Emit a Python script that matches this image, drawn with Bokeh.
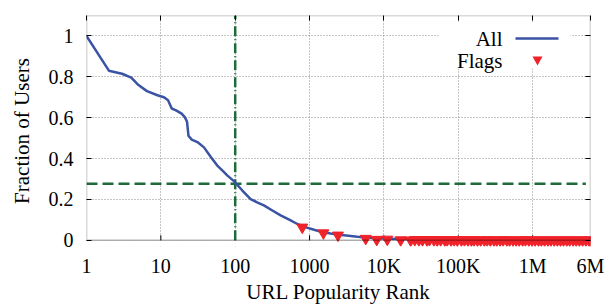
from bokeh.plotting import figure
from bokeh.models import (Range1d, FixedTicker, LogAxis, LinearAxis, BoxAnnotation,
                          PolyAnnotation, Label)
from bokeh.embed import file_html
from bokeh.resources import INLINE

# ---------------- data ----------------
url_rank = [1, 2, 3, 4, 5, 6.5, 9, 11, 12.5, 14, 16, 19, 21, 22.5, 23.5, 26, 31, 38, 47,
            57, 68, 78, 96, 124, 161, 200, 243, 320, 408, 540, 685, 850, 1150, 1500,
            1920, 2700, 4400, 7000, 10000, 15000, 25000, 50000, 100000, 300000,
            1000000, 6000000]
fraction_users = [1.0, 0.83, 0.815, 0.796, 0.76, 0.73, 0.71, 0.70, 0.685, 0.645, 0.636,
                  0.62, 0.603, 0.58, 0.512, 0.493, 0.481, 0.455, 0.408, 0.367, 0.34,
                  0.318, 0.29, 0.245, 0.202, 0.185, 0.171, 0.145, 0.122, 0.10, 0.08,
                  0.066, 0.052, 0.04, 0.034, 0.026, 0.018, 0.012, 0.009, 0.007, 0.005,
                  0.004, 0.003, 0.002, 0.001, 0.0]

flag_rank = [798, 1535, 2410, 5690, 8000, 11100, 16800, 22900, 26000, 29500, 33000,
             38000, 41000, 47000, 52000, 58000, 66000, 71000, 80000, 88000, 97000,
             110000, 121000, 135000, 150000, 163000, 181000, 200000, 224000, 245000,
             270000, 302000, 330000, 365000, 401000, 450000, 490000, 545000, 600000,
             660000, 735000, 800000, 890000, 980000, 1080000, 1200000, 1310000,
             1450000, 1600000, 1760000, 1950000, 2150000, 2370000, 2600000, 2880000,
             3150000, 3500000, 3850000, 4250000, 4700000, 5200000, 5750000, 6000000]
flag_fraction = [0.064, 0.036, 0.025, 0.009, 0.004, 0.005, 0.002, 0.001, 0.003, 0.002,
                 0.002, 0.001, 0.003, 0.002, 0.001, 0.002, 0.001, 0.002, 0.001, 0.002,
                 0.001, 0.001, 0.002, 0.001, 0.001, 0.002, 0.001, 0.001, 0.001, 0.002,
                 0.001, 0.001, 0.001, 0.001, 0.002, 0.001, 0.001, 0.001, 0.001, 0.001,
                 0.001, 0.002, 0.001, 0.001, 0.001, 0.001, 0.001, 0.001, 0.001, 0.001,
                 0.001, 0.001, 0.001, 0.001, 0.001, 0.001, 0.001, 0.001, 0.001, 0.001,
                 0.001, 0.001, 0.001]

x_ticks = [1, 10, 100, 1000, 10000, 100000, 1000000, 6000000]
x_tick_labels = ["1", "10", "100", "1000", "10K", "100K", "1M", "6M"]
y_ticks = [0, 0.2, 0.4, 0.6, 0.8, 1.0]
y_tick_labels = ["0", "0.2", "0.4", "0.6", "0.8", "1"]

cutoff_rank = 100
cutoff_fraction = 0.277

x_lim = (1, 6000000)
y_lim = (-0.03, 1.1)
cutoff_line_end = 5200000

# ---------------- style ----------------
FONT = "serif"
BLUE = "#3a53a4"
RED = "#f0222a"
GREEN = "#1d6b39"

p = figure(width=614, height=306, x_axis_type="log",
           x_range=Range1d(*x_lim), y_range=Range1d(*y_lim),
           output_backend="svg", toolbar_location=None,
           min_border_left=86, min_border_right=24, min_border_top=15,
           min_border_bottom=60)
p.outline_line_color = None
p.background_fill_color = "white"
p.border_fill_color = "white"

# grids
p.xgrid.ticker = FixedTicker(ticks=x_ticks)
p.ygrid.ticker = FixedTicker(ticks=y_ticks)
for g in (p.xgrid, p.ygrid):
    g.grid_line_color = "#8a8a8a"
    g.grid_line_dash = "1 2"
    g.grid_line_width = 1

# white strip below zero so grid stubs are hidden
p.add_layout(BoxAnnotation(left=x_lim[0], right=x_lim[1], bottom=y_lim[0], top=0,
                           fill_color="white", fill_alpha=1,
                           line_color=None, level="underlay"))

# axes
xa = p.xaxis[0]
xa.ticker = FixedTicker(ticks=x_ticks)
xa.major_label_overrides = {t: l for t, l in zip(x_ticks, x_tick_labels)}
xa.axis_line_color = None
xa.major_tick_in = 0
xa.major_tick_out = 0
xa.minor_tick_line_color = None
xa.major_label_standoff = 8
xa.axis_label = "URL Popularity Rank"
xa.axis_label_standoff = 0

ya = p.yaxis[0]
ya.ticker = FixedTicker(ticks=y_ticks)
ya.major_label_overrides = {t: l for t, l in zip(y_ticks, y_tick_labels)}
ya.axis_line_color = None
ya.major_tick_in = 5
ya.major_tick_out = 0
ya.minor_tick_line_color = None
ya.major_label_standoff = 13
ya.axis_label = "Fraction of Users"
ya.axis_label_standoff = 12

for ax in (xa, ya):
    ax.major_label_text_font = FONT
    ax.major_label_text_font_size = "20px"
    ax.major_label_text_color = "black"
    ax.axis_label_text_font = FONT
    ax.axis_label_text_font_size = "21px"
    ax.axis_label_text_font_style = "normal"
    ax.axis_label_text_color = "black"
    ax.major_tick_line_color = "black"

top_ax = LogAxis(ticker=FixedTicker(ticks=x_ticks), axis_line_color=None,
                 major_tick_in=5, major_tick_out=0, minor_tick_line_color=None,
                 major_label_text_font_size="1px", major_label_text_alpha=0,
                 major_label_standoff=0)
right_ax = LinearAxis(ticker=FixedTicker(ticks=y_ticks), axis_line_color=None,
                      major_tick_in=5, major_tick_out=0, minor_tick_line_color=None,
                      major_label_text_font_size="1px", major_label_text_alpha=0,
                      major_label_standoff=0)
p.add_layout(top_ax, "above")
p.add_layout(right_ax, "right")

# bottom tick marks rising from the zero line
tick_len = 0.025
p.segment(x0=x_ticks[1:-1], x1=x_ticks[1:-1], y0=[0] * (len(x_ticks) - 2),
          y1=[tick_len] * (len(x_ticks) - 2), line_color="black", line_width=1)

# cutoff lines
p.line(x=[cutoff_rank, cutoff_rank], y=[0, y_lim[1]], line_color=GREEN,
       line_width=2.5, line_dash="10 3 1 3")
p.line(x=[x_lim[0], cutoff_line_end], y=[cutoff_fraction, cutoff_fraction],
       line_color=GREEN, line_width=2.5, line_dash="11 5")

# data
p.line(x=url_rank, y=fraction_users, line_color=BLUE, line_width=2.5)
p.scatter(x=flag_rank, y=flag_fraction, marker="inverted_triangle", size=11,
          fill_color=RED, line_color=RED)

# frame box (from zero line to top)
p.add_layout(BoxAnnotation(left=x_lim[0], right=x_lim[1], bottom=0, top=y_lim[1],
                           fill_alpha=0, line_color="black", line_width=1.5))

# legend (manual: text left of sample, as in reference); screen units from frame bottom-left
p.add_layout(BoxAnnotation(left=352, right=484, bottom=178, top=224,
                           left_units="screen", right_units="screen",
                           bottom_units="screen", top_units="screen",
                           fill_color="white", fill_alpha=1, line_color=None,
                           level="underlay"))
for txt, yy in (("All", 208), ("Flags", 186)):
    p.add_layout(Label(x=416, y=yy, x_units="screen", y_units="screen", text=txt,
                       text_align="right", text_baseline="middle", text_font=FONT,
                       text_font_size="21px", text_color="black"))
p.add_layout(BoxAnnotation(left=429, right=472, bottom=206.75, top=209.25,
                           left_units="screen", right_units="screen",
                           bottom_units="screen", top_units="screen",
                           fill_color=BLUE, fill_alpha=1, line_color=None))
p.add_layout(PolyAnnotation(xs=[446, 456, 451], ys=[190, 190, 181],
                            xs_units="screen", ys_units="screen",
                            fill_color=RED, fill_alpha=1, line_color=None))

open("out.html", "w").write(file_html(p, INLINE))
